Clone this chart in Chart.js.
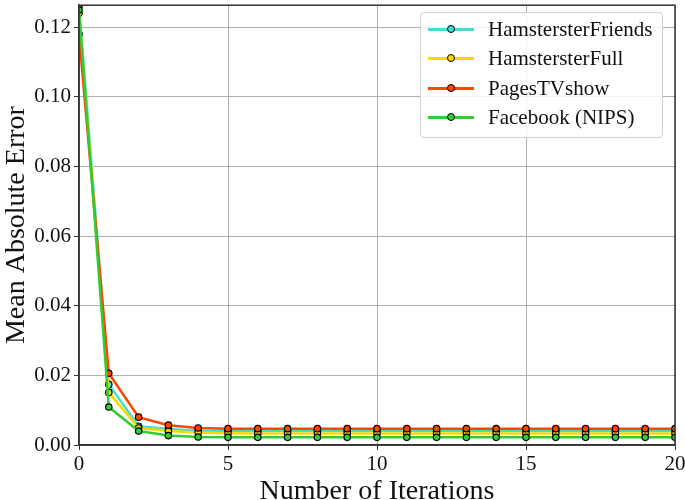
<!DOCTYPE html>
<html>
<head>
<meta charset="utf-8">
<script src="https://cdn.jsdelivr.net/npm/chart.js@4.4.1/dist/chart.umd.min.js"></script>
<style>
  html, body { margin: 0; padding: 0; background: #fff; }
  #wrap { position: relative; width: 685px; height: 500px; }
  #legend {
    position: absolute; left: 420px; top: 12px; width: 241px; height: 124px;
    border: 1px solid #d0d0d0; border-radius: 4px; background: rgba(255,255,255,0.85);
    font-family: "Liberation Serif", serif; font-size: 21px; color: #111;
  }
  .row { position: absolute; left: 0; height: 30px; display: flex; align-items: center; }
  .swatch { position: relative; width: 46px; height: 3px; margin-left: 7px; margin-right: 14px; }
  .dot { position: absolute; left: 19px; top: -3px; width: 6px; height: 6px; border: 1px solid #000; border-radius: 50%; box-sizing: content-box; }
</style>
</head>
<body>
<div id="wrap">
  <canvas id="chart" width="685" height="500"></canvas>
  <div id="legend"></div>
</div>
<script>
// data
const iterations = [0, 1, 2, 3, 4, 5, 6, 7, 8, 9, 10, 11, 12, 13, 14, 15, 16, 17, 18, 19, 20];
const hamFriends = [0.126, 0.0174, 0.0054, 0.0046, 0.0041, 0.0040, 0.0040, 0.0040, 0.0040, 0.0040, 0.0040,
                    0.0040, 0.0040, 0.0040, 0.0040, 0.0040, 0.0040, 0.0040, 0.0040, 0.0040, 0.0040];
const hamFull = [0.124, 0.0151, 0.0049, 0.0040, 0.0036, 0.0034, 0.0033, 0.0033, 0.0033, 0.0033, 0.0033,
                 0.0033, 0.0033, 0.0033, 0.0033, 0.0033, 0.0033, 0.0033, 0.0033, 0.0033, 0.0033];
const pagesTV = [0.118, 0.0206, 0.0080, 0.0057, 0.0049, 0.0047, 0.0047, 0.0047, 0.0047, 0.0047, 0.0047,
                 0.0047, 0.0047, 0.0047, 0.0047, 0.0047, 0.0047, 0.0047, 0.0047, 0.0047, 0.0047];
const facebook = [0.125, 0.0109, 0.0040, 0.0027, 0.0023, 0.0022, 0.0022, 0.0022, 0.0022, 0.0022, 0.0022,
                  0.0022, 0.0022, 0.0022, 0.0022, 0.0022, 0.0022, 0.0022, 0.0022, 0.0022, 0.0022];
const xTicks = [0, 5, 10, 15, 20];
const yTicks = [0, 0.02, 0.04, 0.06, 0.08, 0.10, 0.12];

const series = [
  { label: "HamstersterFriends", data: hamFriends, color: "#40e0d0" },
  { label: "HamstersterFull", data: hamFull, color: "#ffd700" },
  { label: "PagesTVshow", data: pagesTV, color: "#ff4500" },
  { label: "Facebook (NIPS)", data: facebook, color: "#32cd32" },
];

const FONT = "Liberation Serif";

// frame round the plot area
const framePlugin = {
  id: "frame",
  afterDraw(chart) {
    const { ctx, chartArea: a } = chart;
    ctx.save();
    ctx.strokeStyle = "#333";
    ctx.lineWidth = 1.5;
    ctx.strokeRect(a.left, a.top, a.right - a.left, a.bottom - a.top);
    ctx.restore();
  },
};

// kill the extra room chart.js keeps for end labels
function noPad(s) {
  s.paddingTop = 0; s.paddingBottom = 0; s.paddingLeft = 0; s.paddingRight = 0;
}

new Chart(document.getElementById("chart").getContext("2d"), {
  type: "line",
  data: {
    datasets: series.map((s, i) => ({
      label: s.label,
      data: iterations.map((x, j) => ({ x, y: s.data[j] })),
      borderColor: s.color,
      backgroundColor: s.color,
      borderWidth: 2.5,
      pointRadius: 3.2,
      pointBorderWidth: 1.2,
      pointBorderColor: "#000",
      pointBackgroundColor: s.color,
      tension: 0,
      order: series.length - i,
    })),
  },
  options: {
    responsive: false,
    animation: false,
    layout: { padding: { top: 3, right: 10, left: 0, bottom: 0 } },
    plugins: { legend: { display: false }, tooltip: { enabled: false } },
    scales: {
      x: {
        type: "linear",
        min: 0,
        max: 20,
        afterBuildTicks: (s) => { s.ticks = xTicks.map((v) => ({ value: v })); },
        afterFit: (s) => { s.height = 55; noPad(s); },
        ticks: { font: { family: FONT, size: 21 }, color: "#111", padding: 2, maxRotation: 0 },
        grid: { color: "#b0b0b0", lineWidth: 1, tickLength: 5, tickColor: "#333" },
        border: { color: "#333", width: 1.5 },
        title: {
          display: true, text: "Number of Iterations",
          font: { family: FONT, size: 28 }, color: "#111", padding: { top: 0, bottom: -8 },
        },
      },
      y: {
        min: 0,
        max: 0.1263,
        afterBuildTicks: (s) => { s.ticks = yTicks.map((v) => ({ value: v })); },
        afterFit: (s) => { s.width = 79; noPad(s); },
        ticks: {
          font: { family: FONT, size: 21 }, color: "#111", padding: 3,
          callback: (v) => v.toFixed(2),
        },
        grid: { color: "#b0b0b0", lineWidth: 1, tickLength: 5, tickColor: "#333" },
        border: { color: "#333", width: 1.5 },
        title: {
          display: true, text: "Mean Absolute Error",
          font: { family: FONT, size: 28 }, color: "#111", padding: { top: 0, bottom: 0 },
        },
      },
    },
  },
  plugins: [framePlugin],
});

// legend as html
const legend = document.getElementById("legend");
series.forEach((s, i) => {
  const row = document.createElement("div");
  row.className = "row";
  row.style.top = (1 + i * 29.5) + "px";
  row.innerHTML = `<span class="swatch" style="background:${s.color}"><span class="dot" style="background:${s.color}"></span></span><span>${s.label}</span>`;
  legend.appendChild(row);
});
</script>
</body>
</html>
